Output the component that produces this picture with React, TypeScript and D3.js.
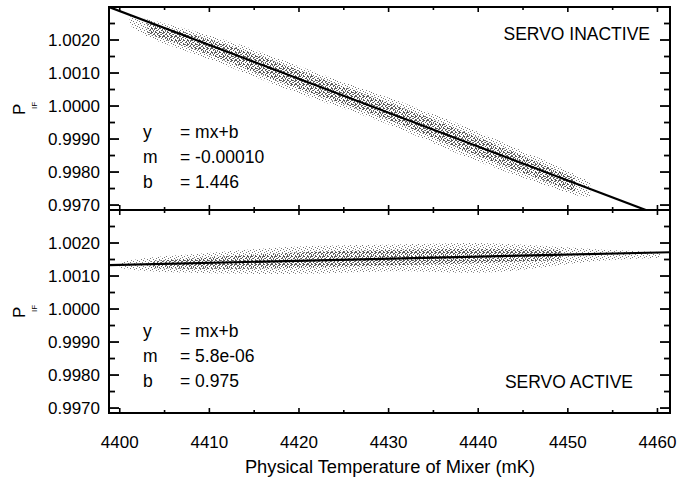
import React from "react";
import * as d3 from "d3";

// ---- data ----
const xTicksMajor = [4400, 4410, 4420, 4430, 4440, 4450, 4460];
const xTicksMinor = [4405, 4415, 4425, 4435, 4445, 4455];
const yTickLabels = ["0.9970", "0.9980", "0.9990", "1.0000", "1.0010", "1.0020"];
const yTicksMajor = [0.997, 0.998, 0.999, 1.0, 1.001, 1.002];
const yTicksMinor = [0.9975, 0.9985, 0.9995, 1.0005, 1.0015, 1.0025];

// servo inactive cloud (outer envelope + dense core)
const topCloudX = [4401.1, 4403.1, 4408.9, 4415.1, 4420.1, 4430.2, 4436.9, 4444.7, 4451.4, 4452.5];
const topCloudHi = [1.00272, 1.00264, 1.00224, 1.00173, 1.00118, 1.00024, 0.99958, 0.99867, 0.99788, 0.99767];
const topCloudLo = [1.00246, 1.00203, 1.00155, 1.00088, 1.00033, 0.99948, 0.99861, 0.99785, 0.99721, 0.99727];
const topCoreX = [4403.1, 4408.9, 4415.1, 4420.1, 4430.2, 4436.9, 4444.7, 4450.8];
const topCoreHi = [1.00252, 1.00212, 1.00158, 1.00106, 1.00009, 0.99939, 0.99852, 0.99782];
const topCoreLo = [1.00218, 1.00167, 1.00103, 1.00048, 0.99961, 0.99879, 0.998, 0.99739];

// servo active cloud
const botCloudX = [4400.0, 4403.4, 4408.9, 4420.1, 4430.2, 4436.9, 4442.5, 4449.2, 4453.6, 4460.3];
const botCloudHi = [1.00142, 1.00158, 1.00167, 1.00194, 1.00194, 1.002, 1.002, 1.00188, 1.00179, 1.00173];
const botCloudLo = [1.00124, 1.00112, 1.00109, 1.00103, 1.00118, 1.00109, 1.00109, 1.00133, 1.00148, 1.00155];
const botCoreX = [4403.4, 4408.9, 4420.1, 4430.2, 4436.9, 4442.5, 4449.2];
const botCoreHi = [1.00145, 1.00155, 1.00173, 1.00179, 1.00182, 1.00182, 1.00179];
const botCoreLo = [1.00124, 1.00121, 1.00124, 1.00133, 1.00136, 1.00142, 1.00148];

// fit lines
const topFitX = [4398.8, 4458.7];
const topFitY = [1.003, 0.99685];
const botFitX = [4398.8, 4461.4];
const botFitY = [1.00133, 1.00172];

const topFitText = [["y", "= mx+b"], ["m", "= -0.00010"], ["b", "= 1.446"]];
const botFitText = [["y", "= mx+b"], ["m", "= 5.8e-06"], ["b", "= 0.975"]];
const topTitle = "SERVO INACTIVE";
const botTitle = "SERVO ACTIVE";
const xTitle = "Physical Temperature of Mixer (mK)";

// ---- layout ----
const W = 691, H = 482;
const L = 109, R = 670;
const xDomain = [4398.8, 4461.4];
const yDomain = [0.99685, 1.003];
const FONT = "'Liberation Sans', Arial, Helvetica, sans-serif";

const x = d3.scaleLinear().domain(xDomain).range([L, R]);

function Panel({ top, bottom, cx, chi, clo, kx, khi, klo, fx, fy, fitText, textY, title, titleX, titleY, id }) {
  const y = d3.scaleLinear().domain(yDomain).range([bottom, top]);
  const outer = d3.area<number>().x((d, i) => x(cx[i])).y0((d, i) => y(clo[i])).y1((d, i) => y(chi[i])).curve(d3.curveBasis);
  const core = d3.area<number>().x((d, i) => x(kx[i])).y0((d, i) => y(klo[i])).y1((d, i) => y(khi[i])).curve(d3.curveBasis);
  const fit = d3.line<number>().x((d, i) => x(fx[i])).y((d, i) => y(fy[i]));
  return (
    <g>
      <clipPath id={"clip" + id}>
        <rect x={L} y={top} width={R - L} height={bottom - top} />
      </clipPath>
      <g clipPath={`url(#clip${id})`}>
        <path d={outer(cx) || ""} fill="url(#dotsOuter)" />
        <path d={core(kx) || ""} fill="url(#dotsCore)" />
        <path d={fit(fx) || ""} fill="none" stroke="#000" strokeWidth={2.2} />
      </g>
      {yTicksMajor.map((v, i) => (
        <g key={"M" + i}>
          <line x1={L} x2={L + 10} y1={y(v)} y2={y(v)} stroke="#000" strokeWidth={1.8} />
          <line x1={R} x2={R - 10} y1={y(v)} y2={y(v)} stroke="#000" strokeWidth={1.8} />
          <text x={100} y={y(v) + 6} textAnchor="end" fontSize={17} fontFamily={FONT}>{yTickLabels[i]}</text>
        </g>
      ))}
      {yTicksMinor.map((v, i) => (
        <g key={"m" + i}>
          <line x1={L} x2={L + 6} y1={y(v)} y2={y(v)} stroke="#000" strokeWidth={1.8} />
          <line x1={R} x2={R - 6} y1={y(v)} y2={y(v)} stroke="#000" strokeWidth={1.8} />
        </g>
      ))}
      {xTicksMajor.map((v, i) => (
        <g key={"xM" + i}>
          <line x1={x(v)} x2={x(v)} y1={top} y2={top + 5} stroke="#000" strokeWidth={1.6} />
          <line x1={x(v)} x2={x(v)} y1={bottom} y2={bottom - 5} stroke="#000" strokeWidth={1.6} />
        </g>
      ))}
      {xTicksMinor.map((v, i) => (
        <g key={"xm" + i}>
          <line x1={x(v)} x2={x(v)} y1={top} y2={top + 3} stroke="#000" strokeWidth={1.6} />
          <line x1={x(v)} x2={x(v)} y1={bottom} y2={bottom - 3} stroke="#000" strokeWidth={1.6} />
        </g>
      ))}
      <rect x={L} y={top} width={R - L} height={bottom - top} fill="none" stroke="#000" strokeWidth={2} />
      <text transform={`translate(25,${y(1.0) + 9}) rotate(-90)`} fontSize={17} fontFamily={FONT}>P</text>
      <text transform={`translate(37,${y(1.0) + 3}) rotate(-90)`} fontSize={8} fontFamily={FONT}>IF</text>
      {fitText.map((r, i) => (
        <g key={"t" + i} fontSize={17.5} fontFamily={FONT}>
          <text x={143} y={textY + i * 25}>{r[0]}</text>
          <text x={180} y={textY + i * 25}>{r[1]}</text>
        </g>
      ))}
      <text x={titleX} y={titleY} textAnchor="end" fontSize={17.5} fontFamily={FONT}>{title}</text>
    </g>
  );
}

export default function App() {
  const outerDots = [[0, 0], [3, 1], [1, 3], [4, 4], [5, 2], [2, 5]];
  const coreDots = [[0, 0], [2, 1], [1, 2], [3, 3], [3, 0]];
  return (
    <svg width={W} height={H} style={{ position: "absolute", left: 0, top: 0, background: "#fff" }}>
      <defs>
        <pattern id="dotsOuter" width={6} height={6} patternUnits="userSpaceOnUse">
          {outerDots.map((p, i) => <rect key={i} x={p[0]} y={p[1]} width={1} height={1} fill="#777" />)}
        </pattern>
        <pattern id="dotsCore" width={4} height={4} patternUnits="userSpaceOnUse">
          {coreDots.map((p, i) => <rect key={i} x={p[0]} y={p[1]} width={1} height={1} fill="#555" />)}
        </pattern>
      </defs>
      <rect x={0} y={0} width={W} height={H} fill="#fff" />
      <Panel id="a" top={7} bottom={210} cx={topCloudX} chi={topCloudHi} clo={topCloudLo}
        kx={topCoreX} khi={topCoreHi} klo={topCoreLo} fx={topFitX} fy={topFitY}
        fitText={topFitText} textY={138} title={topTitle} titleX={650} titleY={40} />
      <Panel id="b" top={210} bottom={413} cx={botCloudX} chi={botCloudHi} clo={botCloudLo}
        kx={botCoreX} khi={botCoreHi} klo={botCoreLo} fx={botFitX} fy={botFitY}
        fitText={botFitText} textY={337} title={botTitle} titleX={633} titleY={388} />
      {xTicksMajor.map((v) => (
        <text key={v} x={x(v)} y={448} textAnchor="middle" fontSize={17} fontFamily={FONT}>{v}</text>
      ))}
      <text x={390} y={473} textAnchor="middle" fontSize={18.3} fontFamily={FONT}>{xTitle}</text>
    </svg>
  );
}
